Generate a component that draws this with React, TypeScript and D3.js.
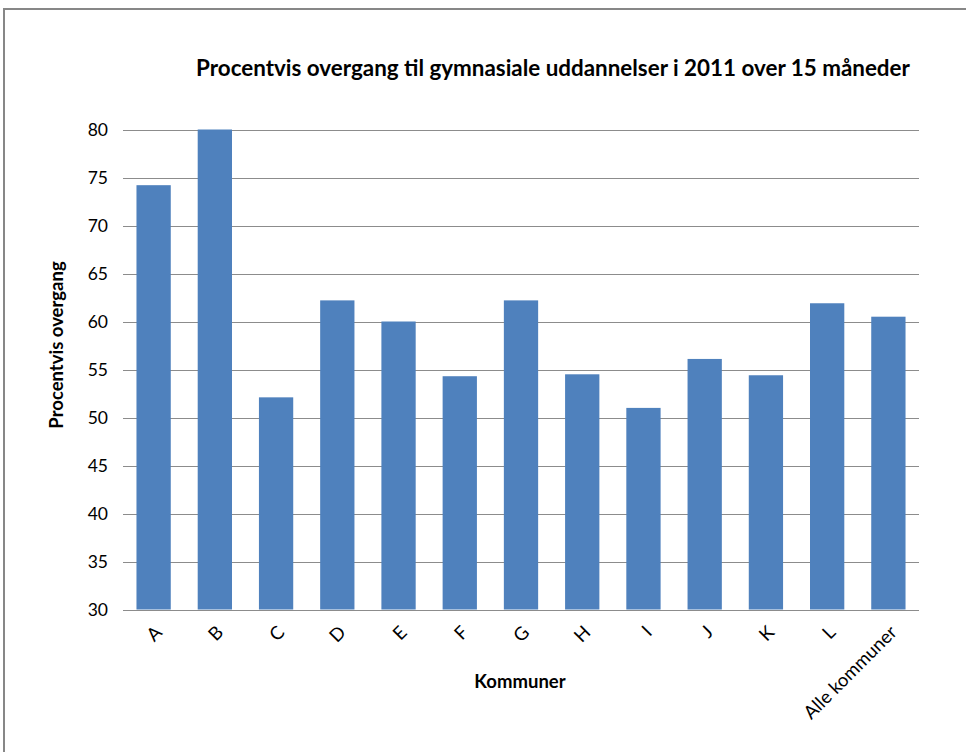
import React from "react";
import * as d3 from "d3";

const categories = ["A", "B", "C", "D", "E", "F", "G", "H", "I", "J", "K", "L", "Alle kommuner"];
const values = [74.2, 80.0, 52.1, 62.2, 60.0, 54.3, 62.2, 54.5, 51.0, 56.1, 54.4, 61.9, 60.5];
const yTicks = [30, 35, 40, 45, 50, 55, 60, 65, 70, 75, 80];

const W = 966;
const H = 752;
const left = 123;
const right = 919;
const top = 129.5;
const bottom = 609.5;
const FONT = "Lato, 'Open Sans', sans-serif";

export default function App() {
  const x = d3.scaleBand<string>().domain(categories).range([left, right]).paddingInner(0.44).paddingOuter(0.22);
  const y = d3.scaleLinear().domain([30, 80]).range([bottom, top]);
  return (
    <svg width={W} height={H} style={{ position: "absolute", left: 0, top: 0, background: "#fff" }}>
      <rect x={4} y={9} width={W} height={H} fill="#fff" stroke="#878787" strokeWidth={2} />
      <text x={553} y={76} textAnchor="middle" fontFamily={FONT} fontWeight="bold" fontSize={22.4} fill="#000">
        Procentvis overgang til gymnasiale uddannelser i 2011 over 15 måneder
      </text>
      {yTicks.map((t) => (
        <g key={t}>
          <line x1={left} x2={right} y1={Math.round(y(t)) + 0.5} y2={Math.round(y(t)) + 0.5} stroke="#8c8c8c" strokeWidth={1} />
          <text x={108} y={y(t)} dy="0.35em" textAnchor="end" fontFamily={FONT} fontSize={17.5} fill="#000">
            {t}
          </text>
        </g>
      ))}
      {categories.map((c, i) => (
        <rect key={c} x={x(c)} y={y(values[i])} width={x.bandwidth()} height={bottom - y(values[i])} fill="#4F81BD" />
      ))}
      {categories.map((c) => {
        const cx = (x(c) as number) + x.bandwidth() / 2;
        return (
          <text
            key={c}
            transform={`translate(${cx + 5},${629}) rotate(-45)`}
            textAnchor="end"
            dy="0.35em"
            fontFamily={FONT}
            fontSize={18.5}
            fill="#000"
          >
            {c}
          </text>
        );
      })}
      <text x={520} y={688} textAnchor="middle" fontFamily={FONT} fontWeight="bold" fontSize={18.5} fill="#000">
        Kommuner
      </text>
      <text transform="translate(63,345) rotate(-90)" textAnchor="middle" fontFamily={FONT} fontWeight="bold" fontSize={18.5} fill="#000">
        Procentvis overgang
      </text>
    </svg>
  );
}
